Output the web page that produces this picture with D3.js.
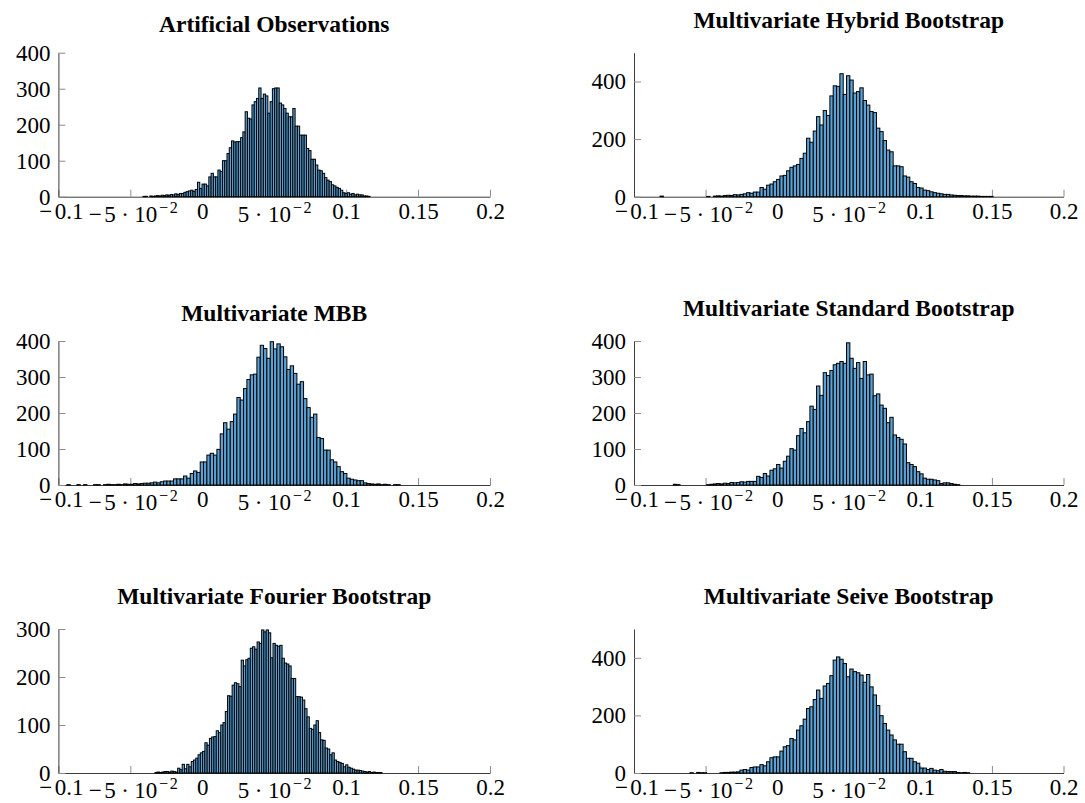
<!DOCTYPE html>
<html>
<head>
<meta charset="utf-8">
<script src="https://cdn.jsdelivr.net/npm/d3@7"></script>
<style>
  html, body { margin: 0; padding: 0; background: #ffffff; }
  svg { display: block; }
</style>
</head>
<body>
<svg id="chart" width="1085" height="803"></svg>
<script>
// ---- Data -------------------------------------------------------------
const titles = [
  "Artificial Observations",
  "Multivariate Hybrid Bootstrap",
  "Multivariate MBB",
  "Multivariate Standard Bootstrap",
  "Multivariate Fourier Bootstrap",
  "Multivariate Seive Bootstrap"
];

// left edge of the first bin and the bin width of every histogram
const binStart = [-0.0412, -0.0818, -0.0941, -0.0725, -0.0329, -0.0609];
const binStep  = [0.001578, 0.002326, 0.002317, 0.002326, 0.001578, 0.002326];

const artificialCounts = [1,1,0,2,1,2,3,2,4,3,5,4,6,5,8,6,9,9,
  12,14,16,18,15,20,40,23,35,35,30,55,65,55,55,74,70,100,100,120,136,155,152,153,153,164,180,236,218,216,255,264,273,302,273,285,280,232,264,300,302,302,260,255,245,232,222,222,245,
  196,196,171,171,171,134,128,104,104,88,74,72,65,53,46,42,33,30,26,23,18,11,9,11,7,9,5,7,5,5,2,
  2,1];

const hybridCounts = [2,0,0,0,0,0,0,0,0,0,0,0,0,0,
  1,0,2,3,2,4,5,4,7,6,
  8,10,14,12,16,16,32,26,40,44,52,60,72,74,90,
  102,107,112,133,151,203,189,228,278,249,299,282,350,385,383,427,355,420,405,360,365,378,334,318,296,292,238,226,195,162,
  156,107,107,104,72,68,52,46,32,30,23,21,17,14,
  12,10,8,8,6,5,4,4,3,3,2,2,2,1,1,1,1];

const mbbCounts = [1,0,0,1,0,1,0,0,1,1,0,1,2,1,1,2,1,3,2,2,4,3,4,5,
  5,6,8,6,9,11,11,11,17,17,
  17,25,19,32,39,35,64,64,83,88,83,99,
  142,173,155,176,197,243,236,268,293,306,308,355,388,379,352,398,378,392,384,356,321,331,310,280,287,240,215,188,197,132,
  129,97,97,70,64,51,37,32,19,16,14,12,12,6,4,3,2,3,1,2,1,0,1,1];

const standardCounts = [2,1,0,0,0,0,0,0,0,0,1,2,3,4,3,5,4,7,6,7,9,8,10,10,10,
  24,21,32,25,41,45,57,47,66,80,101,97,137,157,145,176,219,210,275,249,312,304,318,334,338,343,338,395,352,324,
  340,296,343,306,308,248,253,222,213,173,188,139,132,127,114,62,57,51,37,31,19,16,16,14,12,4,6,6,4,2,1];

const fourierCounts = [1,2,1,2,3,3,2,4,3,2,
  10,7,18,9,18,13,24,27,31,38,42,45,63,58,72,75,76,88,84,100,105,128,161,160,183,188,186,180,235,223,
  236,239,260,263,258,273,270,298,294,298,292,240,270,266,264,266,239,229,227,223,197,197,159,159,158,152,134,117,93,91,
  100,109,84,69,68,52,50,38,42,27,24,22,20,13,17,12,10,8,6,6,5,4,3,
  2,3,1,2,1,1,1];

const seiveCounts = [1,0,2,1,1,0,0,0,0,1,2,2,3,3,4,
  10,12,10,19,21,21,29,25,39,53,56,56,76,91,95,120,115,149,164,187,224,230,255,288,259,302,311,338,392,403,395,380,334,361,352,
  348,340,315,342,299,271,234,199,172,149,132,115,100,100,74,51,51,39,34,17,17,12,16,10,8,12,6,5,5,5,2,1,2,1];

const seriesCounts = [artificialCounts, hybridCounts, mbbCounts, standardCounts, fourierCounts, seiveCounts];

const yMax = [400, 500, 400, 400, 300, 500];
const yTickValues = [
  [0, 100, 200, 300, 400],
  [0, 200, 400],
  [0, 100, 200, 300, 400],
  [0, 100, 200, 300, 400],
  [0, 100, 200, 300],
  [0, 200, 400]
];

const xDomain = [-0.1, 0.2];
const xTickValues = [-0.1, -0.05, 0, 0.05, 0.1, 0.15, 0.2];
const xTickLabels = ["\u22120.1", "\u22125\u00b710^\u22122", "0", "5\u00b710^\u22122", "0.1", "0.15", "0.2"];

// ---- Layout -----------------------------------------------------------
const colRanges = [[58.4, 490], [634, 1063.5]];
const rowRanges = [[52.7, 196.7], [341, 485], [629, 773]];
const serif = '"Liberation Serif", "Times New Roman", Times, serif';
const labelSize = 23;
const titleSize = 23.5;
const barFill = "#5aa2d6";

const svg = d3.select("#chart");

// extra side bearing (in em) that gives the math minus and the centred dot
// their wider typeset spacing
const sideSpace = { "\u2212": 0.107, "\u00b7": 0.24 };

function appendRun(textSel, s, fontSize, dy) {
  let pad = 0;
  let first = true;
  for (const ch of s) {
    const t = textSel.append("tspan").text(ch);
    if (fontSize) t.attr("font-size", fontSize + "px");
    const dx = pad + (sideSpace[ch] || 0);
    if (dx) t.attr("dx", dx + "em");
    if (first && dy) t.attr("dy", dy);
    first = false;
    pad = sideSpace[ch] || 0;
  }
}

// draws a tick label such as "5·10^−2" with a raised exponent
function writeLabel(textSel, str) {
  const parts = str.split("^");
  appendRun(textSel, parts[0], null, null);
  if (parts.length > 1) appendRun(textSel, parts[1], labelSize * 0.7, "-0.52em");
}

seriesCounts.forEach((counts, p) => {
  const col = p % 2, row = Math.floor(p / 2);
  const [top, bottom] = rowRanges[row];

  const x = d3.scaleLinear().domain(xDomain).range(colRanges[col]);
  const y = d3.scaleLinear().domain([0, yMax[p]]).range([bottom, top]);

  const g = svg.append("g").attr("class", "panel");

  // histogram bins
  const bins = counts.map((c, i) => ({
    x0: binStart[p] + i * binStep[p],
    x1: binStart[p] + (i + 1) * binStep[p],
    count: c
  })).filter(d => d.count > 0);

  // axes
  const xAxis = d3.axisBottom(x)
    .tickValues(xTickValues)
    .tickSizeInner(-7)
    .tickSizeOuter(0)
    .tickFormat(() => "");
  const yAxis = d3.axisLeft(y)
    .tickValues(yTickValues[p])
    .tickSizeInner(-7)
    .tickSizeOuter(0)
    .tickPadding(8)
    .tickFormat(d3.format("d"));

  const gx = g.append("g").attr("transform", `translate(0,${bottom})`).call(xAxis);
  const gy = g.append("g").attr("transform", `translate(${colRanges[col][0]},0)`).call(yAxis);

  [gx, gy].forEach(ax => {
    ax.select(".domain").attr("stroke", "#3c3c3c").attr("stroke-width", 1);
    ax.selectAll(".tick line").attr("stroke", "#8c8c8c").attr("stroke-width", 1);
  });

  gy.selectAll(".tick text")
    .attr("font-family", serif)
    .attr("font-size", labelSize + "px")
    .attr("fill", "#000")
    .attr("dy", "0.32em");

  gx.selectAll(".tick").each(function(d, i) {
    const t = d3.select(this).select("text");
    const label = xTickLabels[i];
    const raised = label.indexOf("^") >= 0;
    t.text(null)
      .attr("dy", null)
      .attr("y", labelSize * (raised ? 1.08 : 0.96))
      .attr("font-family", serif)
      .attr("font-size", labelSize + "px")
      .attr("fill", "#000");
    writeLabel(t, label);
  });

  // bars
  g.append("g").selectAll("rect")
    .data(bins)
    .join("rect")
    .attr("x", d => x(d.x0))
    .attr("width", d => x(d.x1) - x(d.x0))
    .attr("y", d => y(d.count))
    .attr("height", d => y(0) - y(d.count))
    .attr("fill", barFill)
    .attr("stroke", "#000")
    .attr("stroke-width", 1);

  // title, sitting on the same box bottom whether or not it has descenders
  const title = titles[p];
  const descender = /[gjpqy]/.test(title);
  g.append("text")
    .attr("x", (colRanges[col][0] + colRanges[col][1]) / 2)
    .attr("y", top - 20.5 - (descender ? 0.2 * titleSize : 0))
    .attr("text-anchor", "middle")
    .attr("font-family", serif)
    .attr("font-weight", "bold")
    .attr("font-size", titleSize + "px")
    .attr("fill", "#000")
    .text(title);
});
</script>
</body>
</html>
